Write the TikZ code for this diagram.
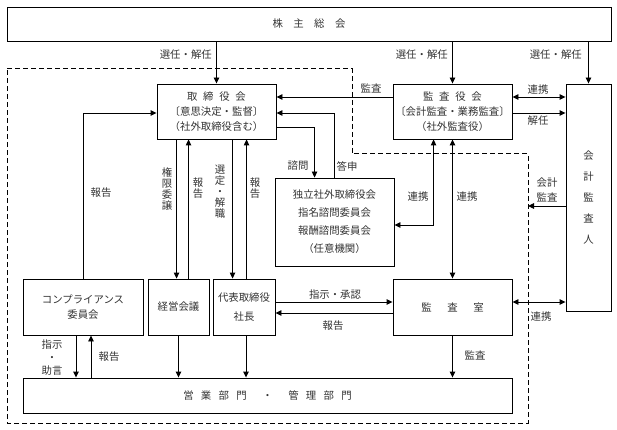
\documentclass[tikz,border=0pt]{standalone}
\usepackage{fontspec}
\newfontfamily\jp{Noto Sans CJK JP}
\usetikzlibrary{arrows.meta,calc}
\begin{document}
\begin{tikzpicture}[x=1pt,y=-1pt,
  box/.style={draw,line width=0.9pt,inner sep=0pt,align=center,
    font=\jp\fontsize{10.4}{15}\selectfont,text=black!80},
  lbl/.style={inner sep=0pt,align=center,font=\jp\fontsize{10.4}{11}\selectfont,text=black!80},
  ln/.style={line width=0.9pt},
  arr/.style={line width=0.9pt,-{Triangle[length=6pt,width=5.5pt]}},
  darr/.style={line width=0.9pt,{Triangle[length=6pt,width=5.5pt]}-{Triangle[length=6pt,width=5.5pt]}},
  region/.style={line width=1pt,dash pattern=on 5pt off 3pt}]
\useasboundingbox (0,0) rectangle (617,430);

% region
\draw[region] (7,69) -- (352,69) -- (352,154) -- (528,154) -- (528,423) -- (7,423) -- cycle;

% nodes
\node[box,minimum width=604,minimum height=34] (kabu) at (309,24)
  {株\hspace{1em}主\hspace{1em}総\hspace{1em}会};
\node[box,minimum width=119,minimum height=55] (tb) at (216.5,111.5)
  {取\hspace{0.55em}締\hspace{0.55em}役\hspace{0.55em}会\\〔意思決定・監督〕\\（社外取締役含む）};
\node[box,minimum width=119,minimum height=55] (ks) at (452.5,111.5)
  {監\hspace{0.55em}査\hspace{0.55em}役\hspace{0.55em}会\\〔会計監査・業務監査〕\\（社外監査役）};
\node[box,minimum width=45,minimum height=227,font=\jp\fontsize{10.4}{21}\selectfont] (kk) at (588.5,197.5)
  {会\\計\\監\\査\\人};
\node[box,minimum width=119,minimum height=88,font=\jp\fontsize{10.4}{18}\selectfont] (dk) at (334.5,222)
  {独立社外取締役会\\指名諮問委員会\\報酬諮問委員会\\（任意機関）};
\node[box,minimum width=120,minimum height=56] (cp) at (83,307)
  {コンプライアンス\\委員会};
\node[box,minimum width=61,minimum height=56] (kg) at (178.5,307) {経営会議};
\node[box,minimum width=62,minimum height=56,font=\jp\fontsize{10.4}{19}\selectfont] (dh) at (244,307)
  {代表取締役\\社長};
\node[box,minimum width=119,minimum height=56] (ksr) at (452.5,307)
  {監\hspace{1.5em}査\hspace{1.5em}室};
\node[box,minimum width=489,minimum height=35] (eg) at (267.5,395.5)
  {営\hspace{0.7em}業\hspace{0.7em}部\hspace{0.7em}門\hspace{1.5em}・\hspace{1.5em}管\hspace{0.7em}理\hspace{0.7em}部\hspace{0.7em}門};

% helper points on node borders
\path ($(ks.west)+(0,-14.5)$) coordinate (ksw1)
      ($(tb.east)+(0,-14.5)$) coordinate (tbe1)
      ($(tb.east)+(0,1.5)$)   coordinate (tbe2)
      ($(tb.east)+(0,15.5)$)  coordinate (tbe3)
      ($(tb.west)+(0,1.5)$)   coordinate (tbw1)
      ($(ks.east)+(0,-14.5)$) coordinate (kse1)
      ($(ks.east)+(0,1.5)$)   coordinate (kse2)
      ($(dk.north west)+(40,0)$) coordinate (dkn1)
      ($(dk.east)+(0,3)$)     coordinate (dke1)
      ($(ks.south west)+(41,0)$) coordinate (b1)
      ($(kg.north west)+(29,0)$) coordinate (a1)
      ($(kg.north west)+(41,0)$) coordinate (a2)
      ($(dh.north west)+(20,0)$) coordinate (a3)
      ($(dh.north west)+(34,0)$) coordinate (a4)
      ($(dh.east)+(0,-5)$)    coordinate (dhe1)
      ($(ksr.west)+(0,6)$)    coordinate (ksrw1)
      ($(ksr.east)+(0,-5)$)   coordinate (ksre1)
      ($(cp.south)+(-7,0)$)   coordinate (cps1)
      ($(cp.south)+(8,0)$)    coordinate (cps2)
      ($(dh.south)+(2,0)$)    coordinate (dhs1);

% shareholders
\draw[arr] (kabu.south -| tb.north) -- (tb.north);
\draw[arr] (kabu.south -| ks.north) -- (ks.north);
\draw[arr] (kabu.south -| kk.north) -- (kk.north);
\node[lbl,anchor=east] (l1) at (212,55) {選任・解任};
\node[lbl,anchor=east] (l2) at (448,55) {選任・解任};
\node[lbl,anchor=east] (l3) at (582,55) {選任・解任};

% audit board
\draw[arr] (ksw1) -- (tbe1);
\node[lbl] (l4) at (371,88) {監査};
\draw[darr] (kse1) -- (kse1 -| kk.west);
\node[lbl] (l5) at (538,90) {連携};
\draw[arr] (kse2) -- (kse2 -| kk.west);
\node[lbl] (l6) at (538,121) {解任};

% compliance to board
\draw[arr] (cp.north) |- (tbw1);
\node[lbl] (l7) at (101,193) {報告};

% board <-> management
\draw[arr] (a1 |- tb.south) -- (a1);
\draw[arr] (a2) -- (a2 |- tb.south);
\draw[arr] (a3 |- tb.south) -- (a3);
\draw[arr] (a4) -- (a4 |- tb.south);
\node[lbl] (l8) at (167,189) {権\\限\\委\\譲};
\node[lbl] (l9) at (198,188) {報\\告};
\node[lbl] (l10) at (220,192) {選\\定\\・\\解\\職};
\node[lbl] (l11) at (255,188) {報\\告};

% board <-> independent committee
\draw[arr] (tbe3) -| (dkn1);
\draw[arr] (dk.north) |- (tbe2);
\node[lbl] (l12) at (298,166) {諮問};
\node[lbl] (l13) at (347,166) {答申};

% audit board links
\draw[darr] (b1) |- (dke1);
\node[lbl] (l14) at (418,197) {連携};
\draw[darr] (ks.south) -- (ksr.north);
\node[lbl] (l15) at (467,197) {連携};

% accounting auditor audit
\coordinate (dr) at (528,206);
\draw[arr] (kk.west |- dr) -- (dr);
\node[lbl,font=\jp\fontsize{10.4}{15}\selectfont] (l16) at (547,189.5) {会計\\監査};

% president <-> internal audit
\draw[arr] (dhe1) -- (dhe1 -| ksr.west);
\node[lbl] (l17) at (335,295) {指示・承認};
\draw[arr] (ksrw1) -- (ksrw1 -| dh.east);
\node[lbl] (l18) at (333,326) {報告};
\draw[darr] (ksre1) -- (ksre1 -| kk.west);
\node[lbl] (l19) at (541,317) {連携};

% to departments
\draw[arr] (cps1) -- (cps1 |- eg.north);
\draw[arr] (cps2 |- eg.north) -- (cps2);
\node[lbl,font=\jp\fontsize{10.4}{13}\selectfont] (l20) at (52,358) {指示\\・\\助言};
\node[lbl] (l21) at (109,357) {報告};
\draw[arr] (kg.south) -- (kg.south |- eg.north);
\draw[arr] (dhs1) -- (dhs1 |- eg.north);
\draw[arr] (ksr.south) -- (ksr.south |- eg.north);
\node[lbl] (l22) at (475,355) {監査};
\end{tikzpicture}
\end{document}
